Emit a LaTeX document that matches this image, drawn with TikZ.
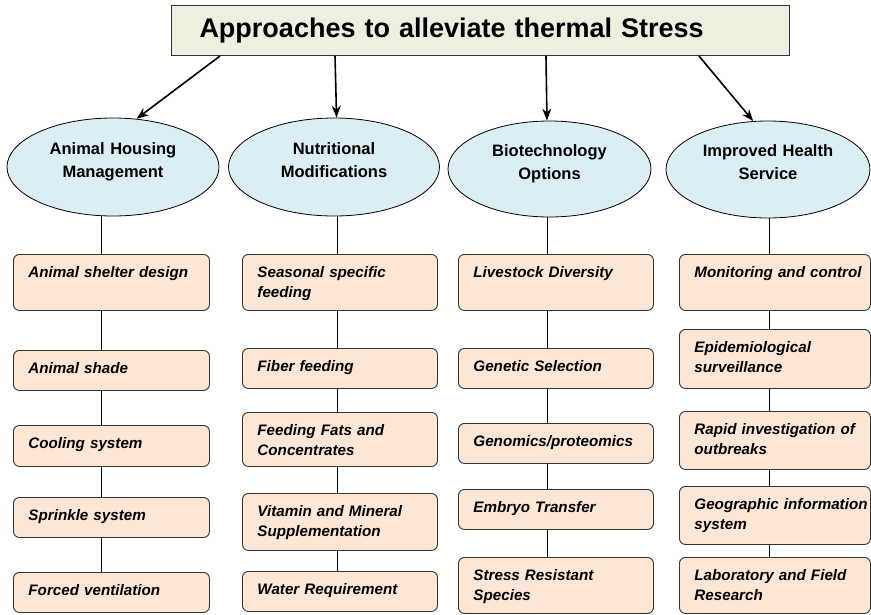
\documentclass[tikz,border=0pt]{standalone}
\usepackage{fontspec}
\setmainfont{Liberation Sans}
\usetikzlibrary{arrows.meta,shapes.geometric}
\definecolor{titlegreen}{HTML}{EBF1DE}
\definecolor{catblue}{HTML}{DBEEF3}
\definecolor{itempeach}{HTML}{FCE6D6}
\definecolor{edgegray}{HTML}{333333}

\tikzset{
  headbox/.style={draw=edgegray, line width=1pt, fill=titlegreen, anchor=north west,
    minimum height=50pt, text width=562pt, inner xsep=28pt, align=left,
    font=\fontsize{27}{30}\selectfont\bfseries},
  catnode/.style={ellipse, draw=black, line width=0.8pt, fill=catblue, inner sep=0pt,
    text width=135pt, align=center, text height=12pt, text depth=38pt,
    font=\fontsize{16.5}{23}\selectfont\bfseries},
  item/.style={draw=edgegray, line width=0.9pt, rounded corners=6pt, fill=itempeach,
    anchor=north west, inner xsep=15pt, inner ysep=8pt, text height=15pt, align=left,
    font=\fontsize{15.2}{20}\selectfont\bfseries\itshape},
  col1/.style={text width=166pt},
  col2/.style={text width=165pt},
  col3/.style={text width=165pt},
  col4/.style={text width=161pt},
  arrowline/.style={line width=1.6pt, -{Stealth[length=12pt,width=9pt]}},
  link/.style={line width=0.7pt}
}

\begin{document}
\begin{tikzpicture}[x=1pt,y=-1pt]
    \useasboundingbox[fill=white] (0,0) rectangle (871,614);

    \node[headbox] (title) at (171,5) {Approaches to alleviate thermal Stress};

    % the four approaches
    \node[catnode, minimum width=212pt, minimum height=98pt] (e1) at (113,167) {Animal Housing\\Management};
    \node[catnode, minimum width=211pt, minimum height=98pt] (e2) at (334,167) {Nutritional\\Modifications};
    \node[catnode, minimum width=203pt, minimum height=96pt] (e3) at (549.5,169) {Biotechnology\\Options};
    \node[catnode, minimum width=204pt, minimum height=97pt] (e4) at (768,169.5) {Improved Health\\Service};

    \coordinate (a1) at (220,0);
    \coordinate (a2) at (335,0);
    \coordinate (a3) at (546,0);
    \coordinate (a4) at (699,0);
    \draw[arrowline] (title.south -| a1) -- (e1.64);
    \draw[arrowline] (title.south -| a2) -- (e2.87);
    \draw[arrowline] (title.south -| a3) -- (e3.93);
    \draw[arrowline] (title.south -| a4) -- (e4.107);

    % housing
    \node[item, col1, text depth=25pt] (b11) at (13,254) {Animal shelter design};
    \node[item, col1, text depth=9pt]  (b12) at (13,350) {Animal shade};
    \node[item, col1, text depth=10pt] (b13) at (13,425) {Cooling system};
    \node[item, col1, text depth=9pt]  (b14) at (13,497) {Sprinkle system};
    \node[item, col1, text depth=9pt]  (b15) at (13,572) {Forced ventilation};

    % nutrition
    \node[item, col2, text depth=25pt] (b21) at (242,254) {Seasonal specific\\feeding};
    \node[item, col2, text depth=9pt]  (b22) at (242,348) {Fiber feeding};
    \node[item, col2, text depth=23pt] (b23) at (242,412) {Feeding Fats and\\Concentrates};
    \node[item, col2, text depth=26pt] (b24) at (242,493) {Vitamin and Mineral\\Supplementation};
    \node[item, col2, text depth=9pt]  (b25) at (242,571) {Water Requirement};

    % biotechnology
    \node[item, col3, text depth=25pt] (b31) at (458,254) {Livestock Diversity};
    \node[item, col3, text depth=9pt]  (b32) at (458,348) {Genetic Selection};
    \node[item, col3, text depth=9pt]  (b33) at (458,423) {Genomics/proteomics};
    \node[item, col3, text depth=9pt]  (b34) at (458,489) {Embryo Transfer};
    \node[item, col3, text depth=25pt] (b35) at (458,557) {Stress Resistant\\Species};

    % health service
    \node[item, col4, text depth=25pt] (b41) at (679,254) {\mbox{Monitoring and control}};
    \node[item, col4, text depth=28pt] (b42) at (679,329) {Epidemiological\\surveillance};
    \node[item, col4, text depth=27pt] (b43) at (679,411) {\mbox{Rapid investigation of}\\outbreaks};
    \node[item, col4, text depth=27pt] (b44) at (679,486) {\mbox{Geographic information}\\system};
    \node[item, col4, text depth=25pt] (b45) at (679,557) {Laboratory and Field\\Research};

    \coordinate (l1) at (101,0);
    \coordinate (l2) at (337,0);
    \coordinate (l3) at (547,0);
    \coordinate (l4) at (769,0);
    \foreach \c in {1,...,4} {
      \draw[link] (e\c.south -| l\c) -- (b\c1.north -| l\c);
      \foreach \r [count=\n from 2] in {1,...,4}
        \draw[link] (b\c\r.south -| l\c) -- (b\c\n.north -| l\c);
    }
  \end{tikzpicture}
\end{document}
